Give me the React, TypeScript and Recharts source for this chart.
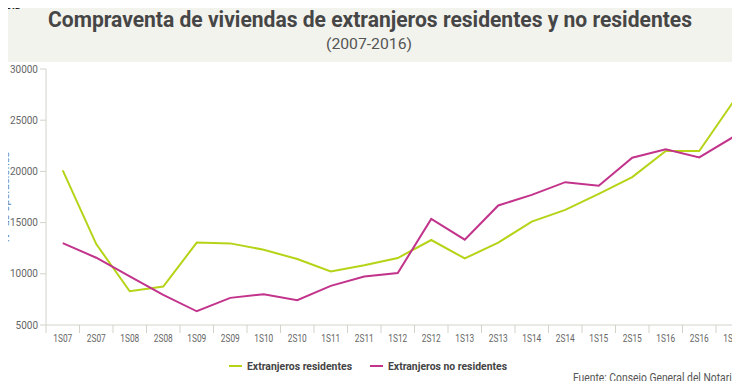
import React from 'react';
import { LineChart, Line, XAxis, YAxis } from 'recharts';

// Semestres (1S = primer semestre, 2S = segundo)
const periods = [
  '1S07', '2S07', '1S08', '2S08', '1S09', '2S09', '1S10', '2S10', '1S11', '2S11',
  '1S12', '2S12', '1S13', '2S13', '1S14', '2S14', '1S15', '2S15', '1S16', '2S16', '1S17',
];

const residentes = [
  20100, 12900, 8300, 8750, 13050, 12970, 12350, 11440, 10230, 10830,
  11540, 13300, 11500, 13040, 15100, 16240, 17810, 19440, 21990, 21990, 26730,
];

const noResidentes = [
  13000, 11570, 9740, 7940, 6340, 7650, 8010, 7420, 8820, 9740,
  10070, 15360, 13330, 16670, 17710, 18950, 18600, 21340, 22160, 21370, 23330,
];

const yTicks = [5000, 10000, 15000, 20000, 25000, 30000];

const data = periods.map((p, i) => ({
  periodo: p,
  residentes: residentes[i],
  noResidentes: noResidentes[i],
}));

const FONT = "'Roboto', sans-serif";
const AXIS = '#d3d3ca';
const GREEN = '#b6d317';
const MAGENTA = '#c2338b';

const CHART_W = 770;
const PLOT_LEFT = 46;
const PLOT_RIGHT = 20.5;
const BAND = (CHART_W - PLOT_LEFT - PLOT_RIGHT) / periods.length;

function XTick(props: any) {
  const { x, y, payload } = props;
  return (
    <g>
      <line x1={x - BAND / 2} x2={x - BAND / 2} y1={y - 8} y2={y} stroke={AXIS} />
      <text x={x} y={y + 9} textAnchor="middle" fontSize={10} fill="#666" fontFamily={FONT}
        textLength={19} lengthAdjust="spacingAndGlyphs">
        {payload.value}
      </text>
    </g>
  );
}

// leyenda: trazo, inicio del texto, ancho del texto
const legendItems = [
  { label: 'Extranjeros residentes', color: GREEN, x: 229, textLen: 105 },
  { label: 'Extranjeros no residentes', color: MAGENTA, x: 370, textLen: 119 },
];

export default function App() {
  return (
    <div
      style={{
        position: 'relative',
        width: 740,
        height: 389,
        margin: -8,
        overflow: 'hidden',
        background: '#fff',
        fontFamily: FONT,
      }}
    >
      <div style={{ position: 'absolute', left: 0, top: 0, width: 740, height: 62, background: '#f3f3ee' }} />

      <div style={{ position: 'absolute', left: 0, top: 0 }}>
        <LineChart
          width={CHART_W}
          height={389}
          data={data}
          margin={{ top: 69, right: PLOT_RIGHT, bottom: 34, left: 0 }}
        >
          <XAxis
            dataKey="periodo"
            scale="band"
            height={30}
            stroke={AXIS}
            tickLine={false}
            tick={<XTick />}
            interval={0}
          />
          <YAxis
            domain={[5000, 30000]}
            ticks={yTicks}
            width={PLOT_LEFT}
            stroke={AXIS}
            tickSize={6}
            tick={{ fontSize: 10, fill: '#666', fontFamily: FONT }}
            label={{
              content: () => (
                <text
                  transform="translate(9, 197) rotate(-90)"
                  textAnchor="middle"
                  fontSize={11}
                  fill="#5f83ad"
                  fontFamily={FONT}
                >
                  Nº de operaciones
                </text>
              ),
            }}
          />
          <Line
            dataKey="residentes"
            name="Extranjeros residentes"
            stroke={GREEN}
            strokeWidth={2}
            dot={false}
            isAnimationActive={false}
          />
          <Line
            dataKey="noResidentes"
            name="Extranjeros no residentes"
            stroke={MAGENTA}
            strokeWidth={2}
            dot={false}
            isAnimationActive={false}
          />
        </LineChart>
      </div>

      <svg
        width={740}
        height={389}
        style={{ position: 'absolute', left: 0, top: 0, pointerEvents: 'none' }}
        fontFamily={FONT}
      >
        <text x={1} y={9} fontSize={10} fill="#111" textLength={19} lengthAdjust="spacingAndGlyphs">
          lista
        </text>
        <text x={370} y={27} textAnchor="middle" fontSize={22} fontWeight={700} fill="#464646"
          textLength={644} lengthAdjust="spacingAndGlyphs">
          Compraventa de viviendas de extranjeros residentes y no residentes
        </text>
        <text x={369} y={49} textAnchor="middle" fontSize={15} fill="#555"
          textLength={86} lengthAdjust="spacingAndGlyphs">
          (2007-2016)
        </text>

        {legendItems.map((it) => (
          <g key={it.label}>
            <line x1={it.x} x2={it.x + 13} y1={366} y2={366} stroke={it.color} strokeWidth={2} />
            <text x={it.x + 18} y={370} fontSize={11.5} fontWeight={700} fill="#444"
              textLength={it.textLen} lengthAdjust="spacingAndGlyphs">
              {it.label}
            </text>
          </g>
        ))}

        <text x={573} y={382} fontSize={12.5} fill="#555" textLength={176} lengthAdjust="spacingAndGlyphs">
          Fuente: Consejo General del Notariado
        </text>
      </svg>
    </div>
  );
}
